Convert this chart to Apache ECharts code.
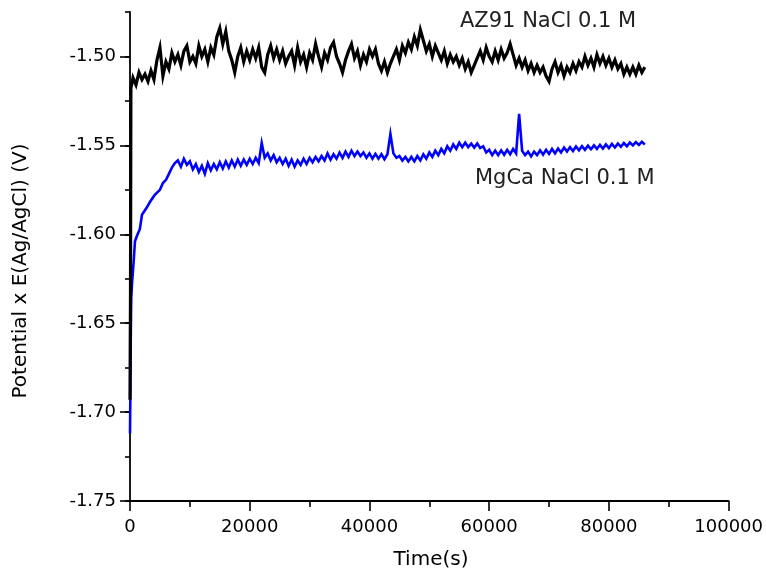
<!DOCTYPE html>
<html><head><meta charset="utf-8">
<script src="https://cdn.jsdelivr.net/npm/echarts@6/dist/echarts.min.js"></script>
<style>html,body{margin:0;padding:0;background:#fff}#c{width:766px;height:575px}</style>
</head><body><div id="c"></div>
<script>
const yMajorTicks = [-1.75, -1.70, -1.65, -1.60, -1.55, -1.50];
const xTitle = 'Time(s)';
const yTitle = 'Potential x E(Ag/AgCl) (V)';
const az91Label = 'AZ91 NaCl 0.1 M';
const mgcaLabel = 'MgCa NaCl 0.1 M';

// AZ91 – first seconds, then regular record every 500 s starting at 500 s
const az91StartTime = [0, 80, 150];
const az91StartValue = [-1.693, -1.635, -1.518];
const az91Step = 500;
const az91Value = [
-1.512,-1.516,-1.509,-1.513,-1.510,-1.514,-1.508,-1.513,-1.502,-1.495,
-1.511,-1.503,-1.507,-1.498,-1.503,-1.499,-1.505,-1.497,-1.494,-1.503,
-1.500,-1.504,-1.494,-1.500,-1.496,-1.503,-1.495,-1.499,-1.489,-1.484,
-1.493,-1.486,-1.497,-1.502,-1.509,-1.500,-1.495,-1.503,-1.497,-1.502,
-1.496,-1.501,-1.495,-1.506,-1.509,-1.499,-1.494,-1.501,-1.496,-1.502,
-1.497,-1.504,-1.500,-1.497,-1.505,-1.495,-1.503,-1.499,-1.506,-1.498,
-1.502,-1.493,-1.500,-1.506,-1.498,-1.502,-1.495,-1.492,-1.500,-1.504,
-1.509,-1.502,-1.497,-1.493,-1.501,-1.497,-1.505,-1.499,-1.503,-1.496,
-1.500,-1.496,-1.504,-1.508,-1.503,-1.509,-1.504,-1.500,-1.496,-1.502,
-1.494,-1.498,-1.492,-1.496,-1.489,-1.494,-1.485,-1.491,-1.497,-1.493,
-1.500,-1.494,-1.498,-1.502,-1.497,-1.504,-1.499,-1.503,-1.500,-1.505,
-1.501,-1.507,-1.503,-1.509,-1.505,-1.501,-1.497,-1.502,-1.495,-1.500,
-1.503,-1.497,-1.502,-1.496,-1.501,-1.498,-1.493,-1.499,-1.505,-1.501,
-1.506,-1.502,-1.508,-1.504,-1.509,-1.505,-1.509,-1.506,-1.511,-1.514,
-1.507,-1.503,-1.509,-1.505,-1.511,-1.506,-1.509,-1.504,-1.508,-1.503,
-1.506,-1.500,-1.505,-1.501,-1.506,-1.499,-1.504,-1.500,-1.505,-1.501,
-1.506,-1.502,-1.507,-1.504,-1.510,-1.506,-1.510,-1.506,-1.510,-1.505,
-1.509,-1.506
];

// MgCa – steep start, then regular record every 500 s starting at 5500 s
const mgcaStartTime = [0, 60, 120, 200, 330, 600, 830, 1150, 1650, 2000, 2800, 3300, 4100, 5000];
const mgcaStartValue = [-1.712, -1.690, -1.660, -1.636, -1.628, -1.616, -1.604, -1.601, -1.597, -1.589, -1.585, -1.582, -1.578, -1.575];
const mgcaFirstTime = 5500;
const mgcaStep = 500;
const mgcaValue = [
-1.5712,-1.5695,-1.5660,-1.5625,-1.5600,-1.5585,-1.5620,-1.5575,-1.5610,-1.5590,
-1.5635,-1.5605,-1.5650,-1.5615,-1.5660,-1.5600,-1.5640,-1.5605,-1.5635,-1.5595,
-1.5630,-1.5590,-1.5625,-1.5585,-1.5620,-1.5580,-1.5615,-1.5580,-1.5610,-1.5575,
-1.5605,-1.5570,-1.5600,-1.5487,-1.5570,-1.5545,-1.5585,-1.5555,-1.5595,-1.5570,
-1.5605,-1.5575,-1.5615,-1.5580,-1.5620,-1.5585,-1.5610,-1.5575,-1.5605,-1.5570,
-1.5595,-1.5565,-1.5590,-1.5560,-1.5585,-1.5545,-1.5580,-1.5550,-1.5575,-1.5540,
-1.5570,-1.5535,-1.5565,-1.5530,-1.5560,-1.5535,-1.5560,-1.5540,-1.5570,-1.5545,
-1.5575,-1.5548,-1.5575,-1.5550,-1.5578,-1.5550,-1.5436,-1.5545,-1.5570,-1.5560,
-1.5585,-1.5565,-1.5590,-1.5565,-1.5590,-1.5560,-1.5585,-1.5550,-1.5575,-1.5540,
-1.5565,-1.5530,-1.5555,-1.5520,-1.5545,-1.5505,-1.5530,-1.5495,-1.5520,-1.5485,
-1.5510,-1.5485,-1.5510,-1.5490,-1.5512,-1.5490,-1.5515,-1.5505,-1.5540,-1.5525,
-1.5555,-1.5530,-1.5555,-1.5528,-1.5553,-1.5525,-1.5550,-1.5520,-1.5545,-1.5323,
-1.5530,-1.5555,-1.5535,-1.5562,-1.5535,-1.5555,-1.5528,-1.5552,-1.5525,-1.5548,
-1.5520,-1.5545,-1.5518,-1.5540,-1.5512,-1.5535,-1.5510,-1.5532,-1.5506,-1.5528,
-1.5504,-1.5525,-1.5502,-1.5522,-1.5500,-1.5520,-1.5497,-1.5518,-1.5495,-1.5515,
-1.5492,-1.5512,-1.5490,-1.5508,-1.5487,-1.5505,-1.5484,-1.5500,-1.5482,-1.5498,
-1.5480,-1.5495
];

const az91Data = az91StartTime.map((t, i) => [t, az91StartValue[i]])
  .concat(az91Value.map((v, i) => [(i + 1) * az91Step, v]));
const mgcaData = mgcaStartTime.map((t, i) => [t, mgcaStartValue[i]])
  .concat(mgcaValue.map((v, i) => [mgcaFirstTime + i * mgcaStep, v]));

const FONT = 'DejaVu Sans';
const chart = echarts.init(document.getElementById('c'), null, {renderer: 'canvas'});
const isMajor = v => Math.abs(v / 0.05 - Math.round(v / 0.05)) < 1e-6;
chart.setOption({
  animation: false,
  backgroundColor: '#fff',
  grid: {left: 130, right: 35, top: 12, bottom: 74, containLabel: false},
  xAxis: {
    type: 'value', min: 0, max: 100000, interval: 20000,
    axisLine: {show: true, onZero: false, lineStyle: {color: '#000', width: 1.8}},
    axisTick: {show: true, inside: false, length: 10, lineStyle: {color: '#000', width: 1.6}},
    minorTick: {show: true, splitNumber: 2, length: 6, lineStyle: {color: '#000', width: 1.6}},
    axisLabel: {color: '#000', fontFamily: FONT, fontSize: 18, margin: 17, formatter: v => String(v)},
    splitLine: {show: false}
  },
  yAxis: [{
    type: 'value', min: -1.75, max: -1.475, interval: 0.025,
    axisLine: {show: true, onZero: false, lineStyle: {color: '#000', width: 1.8}},
    axisTick: {show: true, inside: false, length: 10, customValues: yMajorTicks, lineStyle: {color: '#000', width: 1.6}},
    axisLabel: {color: '#000', fontFamily: FONT, fontSize: 18, margin: 14,
      customValues: yMajorTicks,
      formatter: v => isMajor(v) ? v.toFixed(2) : ''},
    splitLine: {show: false}
  }, {
    type: 'value', min: -1.75, max: -1.475, interval: 0.025, position: 'left',
    axisLine: {show: false},
    axisTick: {show: true, inside: false, length: 5, lineStyle: {color: '#000', width: 1.6}},
    axisLabel: {show: false},
    splitLine: {show: false}
  }],
  series: [{
    name: mgcaLabel, type: 'line', data: mgcaData, showSymbol: false, symbol: 'none',
    lineStyle: {color: '#0000ff', width: 2.6, join: 'miter'}, z: 2
  }, {
    name: az91Label, type: 'line', data: az91Data, showSymbol: false, symbol: 'none',
    lineStyle: {color: '#000000', width: 3.2, join: 'miter'}, z: 3
  }],
  graphic: [
    {type: 'text', left: 460, top: 11, style: {text: az91Label, fill: '#222', font: '21px "DejaVu Sans"'}},
    {type: 'text', left: 475, top: 168, style: {text: mgcaLabel, fill: '#222', font: '21px "DejaVu Sans"'}},
    {type: 'text', x: 431, y: 560, style: {text: xTitle, fill: '#000', font: '20px "DejaVu Sans"', align: 'center', verticalAlign: 'middle'}},
    {type: 'text', x: 21, y: 271, rotation: Math.PI / 2, style: {text: yTitle, fill: '#000', font: '20px "DejaVu Sans"', align: 'center', verticalAlign: 'middle'}}
  ]
});
</script></body></html>
